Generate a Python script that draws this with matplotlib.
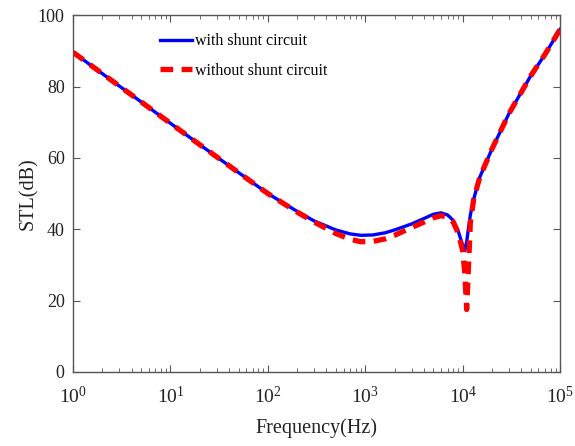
import matplotlib
matplotlib.use("Agg")
import matplotlib.pyplot as plt
import numpy as np

# frequency points (Hz)
freq = [1, 2, 5, 10, 20, 50, 100, 200, 300, 500, 700, 900, 1200, 1600, 2000,
        3000, 4000, 5000, 6000, 7000, 8000, 9000, 10000, 10500, 11000, 11500,
        12000, 13000, 15000, 20000, 30000, 50000, 70000, 100000]

# STL with shunt circuit (dB)
stl_with = [89.6, 83.6, 75.7, 69.7, 63.7, 55.9, 50.0, 45.0, 42.3, 39.8, 38.7,
            38.3, 38.4, 39.0, 39.8, 41.5, 43.0, 44.2, 44.6, 44.0, 42.5, 39.5,
            35.5, 34.0, 36.5, 40.5, 44.0, 48.5, 54.6, 62.5, 72.5, 83.0, 89.0, 96.0]

# STL without shunt circuit (dB)
stl_without = [89.6, 83.6, 75.7, 69.7, 63.7, 55.9, 50.0, 44.8, 42.0, 38.8, 37.2,
               36.5, 36.6, 37.3, 38.3, 40.5, 42.0, 43.2, 43.8, 43.4, 42.0, 39.0,
               34.0, 28.0, 17.5, 30.0, 42.0, 48.5, 54.6, 62.5, 72.5, 83.0, 89.0, 96.0]

plt.rcParams['font.family'] = ['Liberation Serif', 'DejaVu Serif']
plt.rcParams['mathtext.fontset'] = 'stix'

fig = plt.figure(figsize=(5.75, 4.46), dpi=100)
ax = fig.add_axes([0.127, 0.166, 0.847, 0.800])

ax.semilogx(freq, stl_with, color='#0000ff', linewidth=2.4, label='with shunt circuit')
ax.semilogx(freq, stl_without, color='#ff0000', linewidth=3.8, dashes=(2.4, 1.6),
            label='without shunt circuit')

ax.set_xlim(1, 1e5)
ax.set_ylim(0, 100)
ax.set_yticks([0, 20, 40, 60, 80, 100])
ax.set_xticks([1, 10, 100, 1000, 10000, 100000])

gray = '#555555'
for s in ax.spines.values():
    s.set_color(gray)
    s.set_linewidth(1.0)
ax.tick_params(which='both', direction='in', top=True, right=True, colors=gray,
               labelcolor='#222222', labelsize=13)
ax.tick_params(which='major', length=5)
ax.tick_params(which='minor', length=3)
ax.tick_params(axis='x', which='major', pad=10, labelsize=14)
ax.tick_params(axis='y', which='major', pad=6)

ax.set_xlabel('Frequency(Hz)', fontsize=14.5, color='#222222', labelpad=8)
ax.set_ylabel('STL(dB)', fontsize=14.5, color='#222222', labelpad=0)

leg = ax.legend(loc='upper left', bbox_to_anchor=(0.15, 0.99), frameon=False,
                fontsize=11.5, handlelength=2.0, handletextpad=0.15, labelspacing=0.85)

fig.savefig('out.png', dpi=100)
